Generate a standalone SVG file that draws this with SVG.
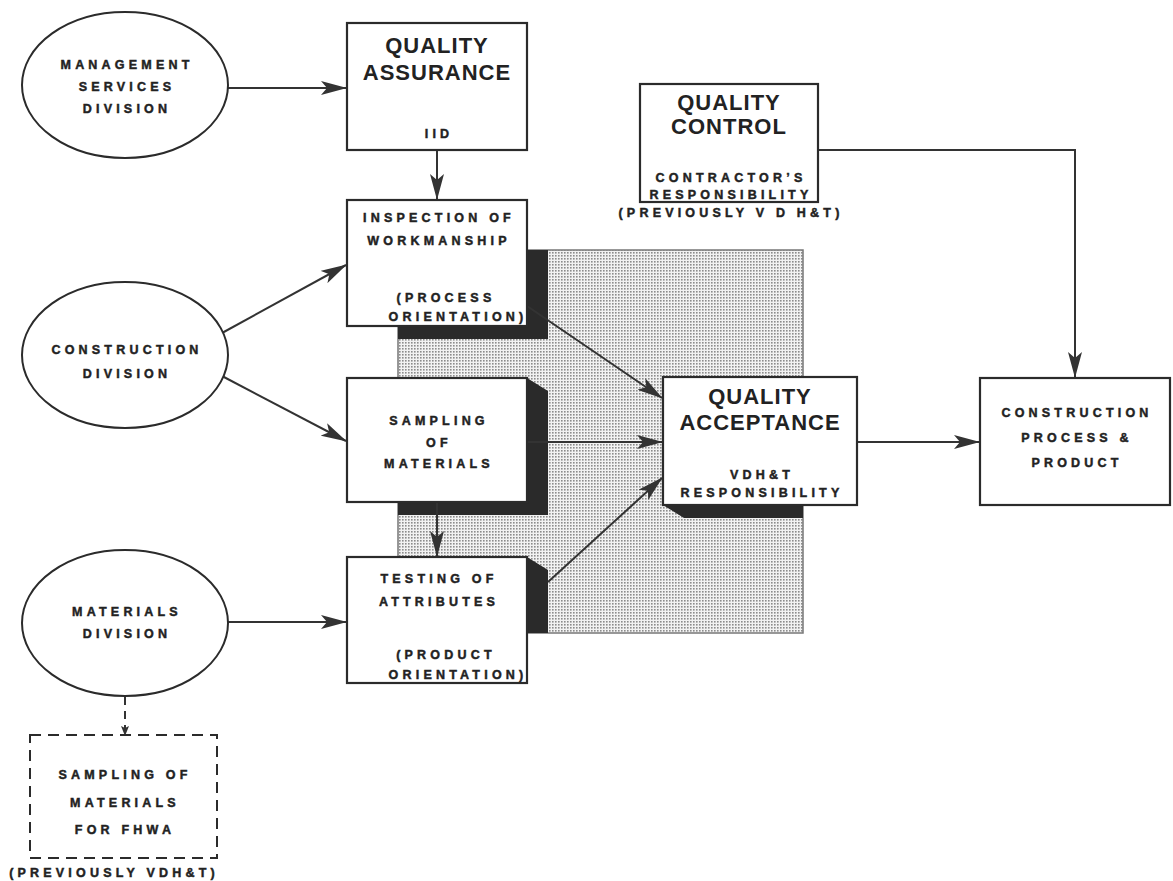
<svg xmlns="http://www.w3.org/2000/svg" width="1173" height="881" viewBox="0 0 1173 881">
<defs>
<pattern id="dots" width="3" height="3" patternUnits="userSpaceOnUse">
<rect width="3" height="3" fill="#f2f2f2"/>
<rect width="1.6" height="1.6" fill="#8c8c8c"/>
</pattern>
<clipPath id="shadeClip"><rect x="398" y="250" width="405" height="383"/></clipPath>
<marker id="arr" viewBox="0 0 26 14" markerWidth="26" markerHeight="14" refX="25" refY="7" orient="auto" markerUnits="userSpaceOnUse">
<path d="M0,0 L26,7 L0,14 L6,7 z" fill="#333"/>
</marker>
<marker id="arrs" viewBox="0 0 10 8" markerWidth="10" markerHeight="8" refX="9" refY="4" orient="auto" markerUnits="userSpaceOnUse">
<path d="M0,0 L10,4 L0,8 L2,4 z" fill="#333"/>
</marker>
</defs>
<style>
.box{fill:#fff;stroke:#2b2b2b;stroke-width:2.2}
.ell{fill:#fff;stroke:#2b2b2b;stroke-width:2}
.sh{fill:#2a2a2a}
.t{font-family:"Liberation Sans",Arial,sans-serif;font-weight:bold;font-size:12.5px;letter-spacing:4.2px;fill:#222;stroke:#222;stroke-width:0.45px;text-anchor:middle}
.T{font-family:"Liberation Sans",Arial,sans-serif;font-weight:bold;font-size:22px;letter-spacing:1px;fill:#222;text-anchor:middle}
.c{stroke:#333;stroke-width:2;fill:none}
</style>
<rect width="1173" height="881" fill="#fff"/>
<g id="shade">
<rect x="398" y="250" width="405" height="383" fill="url(#dots)" stroke="#777" stroke-width="1.5"/>
<g clip-path="url(#shadeClip)">
<path class="sh" d="M527,200 L548,213 L548,339 L368,339 L347,326 L527,326 z"/>
<path class="sh" d="M527,378 L548,391 L548,515 L368,515 L347,502 L527,502 z"/>
<path class="sh" d="M527,557 L548,570 L548,696 L368,696 L347,683 L527,683 z"/>
<path class="sh" d="M857,377 L878,390 L878,518 L684,518 L663,505 L857,505 z"/>
</g>
</g>
<g id="connectors">
<line class="c" x1="228" y1="88" x2="346" y2="88" marker-end="url(#arr)"/>
<line class="c" x1="437" y1="150" x2="437" y2="199" marker-end="url(#arr)"/>
<line class="c" x1="222" y1="333" x2="346" y2="265" marker-end="url(#arr)"/>
<line class="c" x1="222" y1="376" x2="346" y2="441" marker-end="url(#arr)"/>
<line class="c" x1="228" y1="622" x2="346" y2="622" marker-end="url(#arr)"/>
<line class="c" x1="437" y1="502" x2="437" y2="556" marker-end="url(#arr)"/>
<line class="c" x1="527" y1="306" x2="662" y2="398" marker-end="url(#arr)"/>
<line class="c" x1="527" y1="442" x2="662" y2="442" marker-end="url(#arr)"/>
<line class="c" x1="548" y1="582" x2="662" y2="478" marker-end="url(#arr)"/>
<line class="c" x1="857" y1="442" x2="979" y2="442" marker-end="url(#arr)"/>
<polyline class="c" points="818,150 1075,150 1075,377" marker-end="url(#arr)"/>
<line class="c" x1="125" y1="697" x2="125" y2="735" stroke-dasharray="8,6" marker-end="url(#arrs)"/>
</g>
<g id="msd">
<ellipse class="ell" cx="125" cy="85" rx="103" ry="73"/>
<text class="t" x="127" y="69">MANAGEMENT</text>
<text class="t" x="127" y="91">SERVICES</text>
<text class="t" x="127" y="113">DIVISION</text>
</g>
<g id="construction-div">
<ellipse class="ell" cx="125" cy="355" rx="103" ry="73"/>
<text class="t" x="127" y="353.5">CONSTRUCTION</text>
<text class="t" x="127" y="377.5">DIVISION</text>
</g>
<g id="materials-div">
<ellipse class="ell" cx="125" cy="623" rx="103" ry="73"/>
<text class="t" x="127" y="615.5">MATERIALS</text>
<text class="t" x="127" y="637.5">DIVISION</text>
</g>
<g id="qa">
<rect class="box" x="347" y="23" width="180" height="127"/>
<text class="T" x="437" y="53">QUALITY</text>
<text class="T" x="437" y="80">ASSURANCE</text>
<text class="t" x="439" y="137.5">IID</text>
</g>
<g id="inspection">
<rect class="box" x="347" y="200" width="180" height="126"/>
<text class="t" x="439" y="221.5">INSPECTION OF</text>
<text class="t" x="439" y="244.5">WORKMANSHIP</text>
<text class="t" x="446" y="301.5">(PROCESS</text>
<text class="t" x="458" y="320.5">ORIENTATION)</text>
</g>
<g id="sampling">
<rect class="box" x="347" y="378" width="180" height="124"/>
<text class="t" x="439" y="424.5">SAMPLING</text>
<text class="t" x="439" y="446.5">OF</text>
<text class="t" x="439" y="467.5">MATERIALS</text>
</g>
<g id="testing">
<rect class="box" x="347" y="557" width="180" height="126"/>
<text class="t" x="439" y="582.5">TESTING OF</text>
<text class="t" x="439" y="605.5">ATTRIBUTES</text>
<text class="t" x="446" y="658.5">(PRODUCT</text>
<text class="t" x="458" y="678.5">ORIENTATION)</text>
</g>
<g id="qc">
<rect class="box" x="640" y="84" width="178" height="118"/>
<text class="T" x="729" y="110">QUALITY</text>
<text class="T" x="729" y="134">CONTROL</text>
<text class="t" x="731" y="181.5">CONTRACTOR’S</text>
<text class="t" x="731" y="198.5">RESPONSIBILITY</text>
<text class="t" x="731" y="217">(PREVIOUSLY V D H&amp;T)</text>
</g>
<g id="qacc">
<rect class="box" x="663" y="377" width="194" height="128"/>
<text class="T" x="760" y="404">QUALITY</text>
<text class="T" x="760" y="430">ACCEPTANCE</text>
<text class="t" x="762" y="478.5">VDH&amp;T</text>
<text class="t" x="762" y="496.5">RESPONSIBILITY</text>
</g>
<g id="cp">
<rect class="box" x="980" y="378" width="190" height="127"/>
<text class="t" x="1077" y="416.5">CONSTRUCTION</text>
<text class="t" x="1077" y="441.5">PROCESS &amp;</text>
<text class="t" x="1077" y="466.5">PRODUCT</text>
</g>
<g id="fhwa">
<rect x="30" y="735" width="187" height="123" fill="none" stroke="#2b2b2b" stroke-width="2" stroke-dasharray="11,7"/>
<text class="t" x="125" y="778.5">SAMPLING OF</text>
<text class="t" x="125" y="806.5">MATERIALS</text>
<text class="t" x="125" y="833.5">FOR FHWA</text>
<text class="t" x="114" y="876.5">(PREVIOUSLY VDH&amp;T)</text>
</g>
</svg>
